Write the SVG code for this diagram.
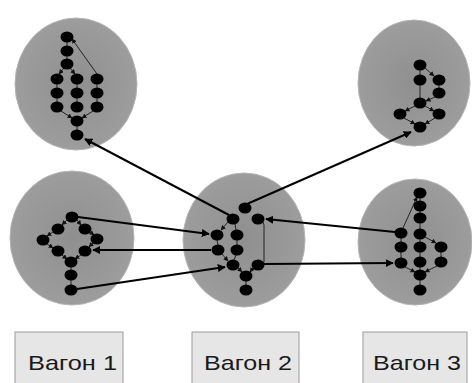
<svg xmlns="http://www.w3.org/2000/svg" width="472" height="383" viewBox="0 0 472 383">
  <defs>
    <radialGradient id="cloud" cx="50%" cy="50%" r="55%">
      <stop offset="0" stop-color="#8f8f8f"/>
      <stop offset="1" stop-color="#9e9e9e"/>
    </radialGradient>
    <marker id="big" viewBox="0 0 10 10" refX="9" refY="5" markerWidth="4" markerHeight="4" orient="auto" markerUnits="strokeWidth">
      <path d="M0,0 L10,5 L0,10 z" fill="#000"/>
    </marker>
    <marker id="small" viewBox="0 0 10 10" refX="9" refY="5" markerWidth="5" markerHeight="5" orient="auto" markerUnits="strokeWidth">
      <path d="M0,0 L10,5 L0,10 z" fill="#111"/>
    </marker>
  </defs>
  <style>
    .cloud { fill: url(#cloud); stroke: #b4b4b4; stroke-width: 1; }
    .n { fill: #000; }
    .cluster ellipse.n { rx: 6.5px; ry: 5.5px; }
    .e { stroke: #222; stroke-width: 1; fill: none; }
    .ea { stroke: #222; stroke-width: 1; fill: none; marker-end: url(#small); }
    .link { stroke: #000; stroke-width: 2; fill: none; marker-end: url(#big); }
    .box { fill: #e6e6e6; stroke: #9a9a9a; stroke-width: 1; }
    .lbl { font-family: "Liberation Sans", Arial, sans-serif; font-size: 21px; fill: #1a1a1a; }
  </style>

  <rect width="472" height="383" fill="#fff"/>

  <!-- top-left cluster -->
  <g id="cluster-top-left" class="cluster">
    <ellipse class="cloud" cx="76" cy="84" rx="61" ry="66"/>
    <g>
      <line class="ea" x1="97" y1="74" x2="72" y2="39"/>
      <line class="e" x1="67" y1="41" x2="67" y2="47"/>
      <line class="e" x1="67" y1="55" x2="67" y2="60"/>
      <line class="ea" x1="64" y1="68" x2="59" y2="74"/>
      <line class="ea" x1="70" y1="68" x2="75" y2="74"/>
      <line class="e" x1="57" y1="84" x2="57" y2="88"/>
      <line class="e" x1="57" y1="97" x2="57" y2="102"/>
      <line class="e" x1="77" y1="84" x2="77" y2="88"/>
      <line class="e" x1="77" y1="97" x2="77" y2="102"/>
      <line class="e" x1="97" y1="84" x2="97" y2="88"/>
      <line class="e" x1="97" y1="97" x2="97" y2="102"/>
      <line class="ea" x1="61" y1="111" x2="72" y2="118"/>
      <line class="ea" x1="93" y1="111" x2="82" y2="118"/>
      <line class="e" x1="77" y1="124" x2="77" y2="131"/>
    </g>
    <ellipse class="n" cx="67" cy="37" rx="6" ry="5"/>
    <ellipse class="n" cx="67" cy="51" rx="6" ry="5"/>
    <ellipse class="n" cx="67" cy="64" rx="6" ry="5"/>
    <ellipse class="n" cx="57" cy="79" rx="6" ry="5"/>
    <ellipse class="n" cx="77" cy="79" rx="6" ry="5"/>
    <ellipse class="n" cx="97" cy="79" rx="6" ry="5"/>
    <ellipse class="n" cx="57" cy="93" rx="6" ry="5"/>
    <ellipse class="n" cx="77" cy="93" rx="6" ry="5"/>
    <ellipse class="n" cx="97" cy="93" rx="6" ry="5"/>
    <ellipse class="n" cx="57" cy="107" rx="6" ry="5"/>
    <ellipse class="n" cx="77" cy="107" rx="6" ry="5"/>
    <ellipse class="n" cx="97" cy="107" rx="6" ry="5"/>
    <ellipse class="n" cx="77" cy="121" rx="6" ry="5"/>
    <ellipse class="n" cx="77" cy="135" rx="6" ry="5"/>
  </g>

  <!-- top-right cluster -->
  <g id="cluster-top-right" class="cluster">
    <ellipse class="cloud" cx="414" cy="83" rx="56" ry="63"/>
    <g>
      <line class="ea" x1="425" y1="68" x2="434" y2="76"/>
      <line class="e" x1="420" y1="70" x2="420" y2="75"/>
      <line class="e" x1="439" y1="85" x2="439" y2="88"/>
      <line class="ea" x1="435" y1="97" x2="426" y2="101"/>
      <line class="e" x1="420" y1="85" x2="420" y2="98"/>
      <line class="ea" x1="415" y1="106" x2="405" y2="111"/>
      <line class="ea" x1="425" y1="106" x2="434" y2="111"/>
      <line class="ea" x1="404" y1="118" x2="415" y2="124"/>
      <line class="ea" x1="435" y1="118" x2="425" y2="124"/>
    </g>
    <ellipse class="n" cx="420" cy="65" rx="6" ry="5"/>
    <ellipse class="n" cx="420" cy="80" rx="6" ry="5"/>
    <ellipse class="n" cx="439" cy="80" rx="6" ry="5"/>
    <ellipse class="n" cx="439" cy="93" rx="6" ry="5"/>
    <ellipse class="n" cx="420" cy="103" rx="6" ry="5"/>
    <ellipse class="n" cx="400" cy="114" rx="6" ry="5"/>
    <ellipse class="n" cx="439" cy="114" rx="6" ry="5"/>
    <ellipse class="n" cx="420" cy="127" rx="6" ry="5"/>
  </g>

  <!-- left cluster -->
  <g id="cluster-left" class="cluster">
    <ellipse class="cloud" cx="72" cy="238" rx="62" ry="67"/>
    <g>
      <line class="ea" x1="67" y1="220" x2="62" y2="225"/>
      <line class="ea" x1="77" y1="220" x2="81" y2="225"/>
      <line class="ea" x1="53" y1="232" x2="47" y2="236"/>
      <line class="ea" x1="90" y1="232" x2="94" y2="235"/>
      <line class="ea" x1="47" y1="244" x2="53" y2="248"/>
      <line class="ea" x1="93" y1="243" x2="89" y2="247"/>
      <line class="ea" x1="62" y1="255" x2="67" y2="259"/>
      <line class="ea" x1="81" y1="255" x2="75" y2="259"/>
      <line class="e" x1="71" y1="267" x2="71" y2="270"/>
      <line class="e" x1="71" y1="280" x2="71" y2="285"/>
    </g>
    <ellipse class="n" cx="72" cy="217" rx="6" ry="5"/>
    <ellipse class="n" cx="58" cy="229" rx="6" ry="5"/>
    <ellipse class="n" cx="85" cy="229" rx="6" ry="5"/>
    <ellipse class="n" cx="43" cy="240" rx="6" ry="5"/>
    <ellipse class="n" cx="97" cy="239" rx="6" ry="5"/>
    <ellipse class="n" cx="58" cy="251" rx="6" ry="5"/>
    <ellipse class="n" cx="85" cy="251" rx="6" ry="5"/>
    <ellipse class="n" cx="71" cy="262" rx="6" ry="5"/>
    <ellipse class="n" cx="71" cy="275" rx="6" ry="5"/>
    <ellipse class="n" cx="71" cy="290" rx="6" ry="5"/>
  </g>

  <!-- middle cluster -->
  <g id="cluster-middle" class="cluster">
    <ellipse class="cloud" cx="244" cy="240" rx="61" ry="67"/>
    <g>
      <line class="ea" x1="228" y1="222" x2="221" y2="230"/>
      <line class="e" x1="235" y1="224" x2="236" y2="230"/>
      <line class="e" x1="217" y1="240" x2="218" y2="245"/>
      <line class="e" x1="237" y1="240" x2="237" y2="245"/>
      <line class="ea" x1="222" y1="254" x2="228" y2="261"/>
      <line class="e" x1="236" y1="255" x2="234" y2="260"/>
      <line class="ea" x1="238" y1="268" x2="242" y2="272"/>
      <line class="ea" x1="253" y1="268" x2="250" y2="272"/>
      <line class="e" x1="246" y1="281" x2="246" y2="285"/>
      <polyline class="e" points="263,222 264,225 264,262 263,264"/>
    </g>
    <ellipse class="n" cx="245" cy="208" rx="6" ry="5"/>
    <ellipse class="n" cx="233" cy="219" rx="6" ry="5"/>
    <ellipse class="n" cx="258" cy="219" rx="6" ry="5"/>
    <ellipse class="n" cx="217" cy="235" rx="6" ry="5"/>
    <ellipse class="n" cx="237" cy="235" rx="6" ry="5"/>
    <ellipse class="n" cx="218" cy="250" rx="6" ry="5"/>
    <ellipse class="n" cx="237" cy="250" rx="6" ry="5"/>
    <ellipse class="n" cx="233" cy="265" rx="6" ry="5"/>
    <ellipse class="n" cx="258" cy="265" rx="6" ry="5"/>
    <ellipse class="n" cx="246" cy="276" rx="6" ry="5"/>
    <ellipse class="n" cx="246" cy="290" rx="6" ry="5"/>
  </g>

  <!-- right cluster -->
  <g id="cluster-right" class="cluster">
    <ellipse class="cloud" cx="415" cy="242" rx="57" ry="63"/>
    <g>
      <line class="ea" x1="403" y1="228" x2="417" y2="197"/>
      <line class="e" x1="420" y1="198" x2="420" y2="201"/>
      <line class="e" x1="420" y1="211" x2="420" y2="213"/>
      <line class="e" x1="420" y1="223" x2="420" y2="229"/>
      <line class="e" x1="420" y1="239" x2="420" y2="242"/>
      <line class="e" x1="420" y1="252" x2="420" y2="257"/>
      <line class="e" x1="420" y1="267" x2="420" y2="270"/>
      <line class="e" x1="420" y1="280" x2="420" y2="285"/>
      <line class="ea" x1="425" y1="237" x2="436" y2="243"/>
      <line class="e" x1="441" y1="252" x2="441" y2="257"/>
      <line class="ea" x1="437" y1="266" x2="425" y2="272"/>
      <line class="e" x1="401" y1="238" x2="401" y2="242"/>
      <line class="e" x1="401" y1="252" x2="401" y2="258"/>
      <line class="ea" x1="405" y1="267" x2="415" y2="272"/>
    </g>
    <ellipse class="n" cx="420" cy="193" rx="6" ry="5"/>
    <ellipse class="n" cx="420" cy="206" rx="6" ry="5"/>
    <ellipse class="n" cx="420" cy="218" rx="6" ry="5"/>
    <ellipse class="n" cx="420" cy="234" rx="6" ry="5"/>
    <ellipse class="n" cx="420" cy="247" rx="6" ry="5"/>
    <ellipse class="n" cx="420" cy="262" rx="6" ry="5"/>
    <ellipse class="n" cx="420" cy="275" rx="6" ry="5"/>
    <ellipse class="n" cx="420" cy="290" rx="6" ry="5"/>
    <ellipse class="n" cx="401" cy="233" rx="6" ry="5"/>
    <ellipse class="n" cx="401" cy="247" rx="6" ry="5"/>
    <ellipse class="n" cx="401" cy="263" rx="6" ry="5"/>
    <ellipse class="n" cx="441" cy="247" rx="6" ry="5"/>
    <ellipse class="n" cx="441" cy="262" rx="6" ry="5"/>
  </g>

  <!-- links between clusters -->
  <g id="links">
    <line class="link" x1="229" y1="215" x2="85" y2="139"/>
    <line class="link" x1="247" y1="204" x2="411" y2="132"/>
    <line class="link" x1="78" y1="217" x2="209" y2="234"/>
    <line class="link" x1="211" y1="250" x2="93" y2="250"/>
    <line class="link" x1="77" y1="289" x2="225" y2="267"/>
    <line class="link" x1="395" y1="232" x2="266" y2="219"/>
    <line class="link" x1="264" y1="264" x2="393" y2="263"/>
  </g>

  <!-- wagon labels -->
  <g id="wagon-1">
    <rect class="box" x="15" y="332" width="108" height="60"/>
    <text class="lbl" x="28" y="370" textLength="89" lengthAdjust="spacingAndGlyphs">Вагон 1</text>
  </g>
  <g id="wagon-2">
    <rect class="box" x="192" y="332" width="107" height="60"/>
    <text class="lbl" x="204" y="370" textLength="88" lengthAdjust="spacingAndGlyphs">Вагон 2</text>
  </g>
  <g id="wagon-3">
    <rect class="box" x="363" y="332" width="104" height="60"/>
    <text class="lbl" x="373" y="370" textLength="88" lengthAdjust="spacingAndGlyphs">Вагон 3</text>
  </g>
</svg>
